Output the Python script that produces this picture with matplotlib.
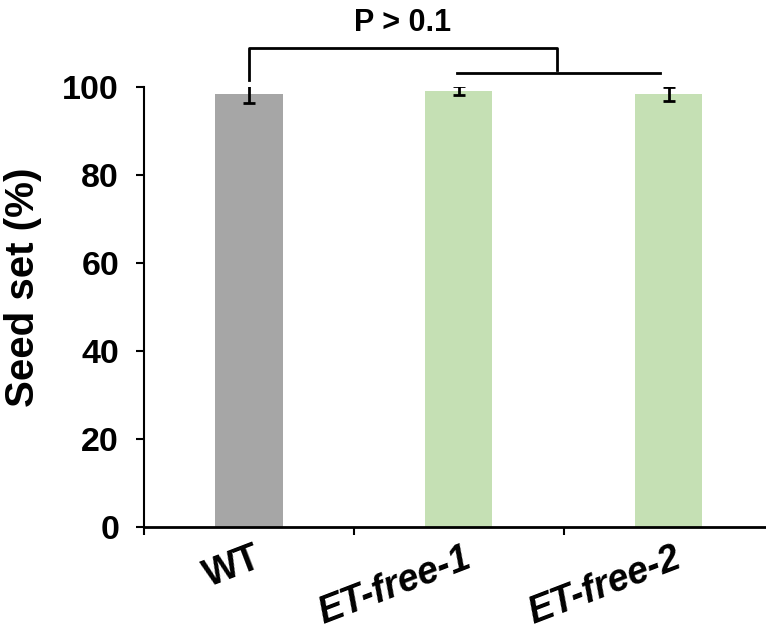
import matplotlib.pyplot as plt
import numpy as np

plt.rcParams["font.family"] = ["Liberation Sans", "DejaVu Sans"]
plt.rcParams["font.weight"] = "bold"

# values
genotypes = ["WT", "ET-free-1", "ET-free-2"]
seed_set = [98.4, 99.2, 98.5]
seed_err = [2.0, 1.0, 1.6]
bar_colors = ["#a6a6a6", "#c5e0b4", "#c5e0b4"]
y_ticks = [0, 20, 40, 60, 80, 100]
p_label = "P > 0.1"

fig = plt.figure(figsize=(7.66, 6.35), dpi=100)
ax = fig.add_axes([0.188, 0.170, 0.822, 0.693])

x = np.arange(len(genotypes))
ax.bar(x, seed_set, width=0.32, color=bar_colors, zorder=2)
ax.errorbar(x, seed_set, yerr=seed_err, fmt="none", ecolor="black",
            elinewidth=2, capsize=4, capthick=2, zorder=3)

ax.set_xlim(-0.5, 2.5)
ax.set_ylim(0, 100)
ax.set_yticks(y_ticks)
ax.set_yticklabels([str(v) for v in y_ticks], fontsize=24.5, fontweight="bold")
ax.set_xticks([-0.5, 0.5, 1.5, 2.5])
ax.set_xticklabels([])
ax.tick_params(axis="both", direction="out", length=6, width=1.5)
ax.tick_params(axis="y", pad=12)

for s in ["top", "right"]:
    ax.spines[s].set_visible(False)
ax.spines["left"].set_linewidth(1.5)
ax.spines["bottom"].set_linewidth(2)

# category labels, rotated
for i, name in enumerate(genotypes):
    style = "normal" if name == "WT" else "italic"
    ax.text(i + 0.02, -3.0, name, rotation=21, rotation_mode="anchor",
            ha="right", va="top", fontsize=27, fontweight="bold",
            fontstyle=style, clip_on=False)

ax.set_ylabel("Seed set (%)", fontsize=29, fontweight="bold")
ax.yaxis.set_label_coords(-0.162, 0.545)

# significance bracket
top = 108.8
ax.plot([0, 0, 1.47, 1.47], [101.6, top, top, 103.9], color="black",
        lw=2, clip_on=False)
ax.plot([0.99, 1.96], [103.1, 103.1], color="black", lw=2, clip_on=False)
ax.text(0.73, 111.2, p_label, ha="center", va="bottom", fontsize=22,
        fontweight="bold", clip_on=False)

fig.savefig("out.png", dpi=100)
